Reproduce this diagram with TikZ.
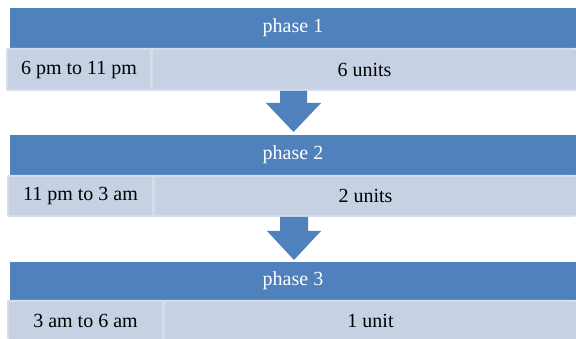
\documentclass[tikz,border=0pt]{standalone}
\usepackage{fontspec}
\setmainfont{Liberation Serif}
\definecolor{hdr}{HTML}{4F81BD}
\definecolor{cellc}{HTML}{C6D1E4}
\definecolor{rowbg}{HTML}{D5DDEB}
\begin{document}
\begin{tikzpicture}[x=1pt,y=-1pt,
  header/.style={fill=hdr,draw=none},
  rowback/.style={fill=rowbg,draw=none,rounded corners=2pt},
  cell/.style={fill=cellc,draw=none},
  htext/.style={text=white,font=\fontsize{20}{22}\selectfont,inner sep=0pt},
  ctext/.style={text=black,font=\fontsize{20}{22}\selectfont,inner sep=0pt},
  downarrow/.style={fill=hdr,draw=none}]
\useasboundingbox (0,0) rectangle (576,339);
% phase 1
\path[header] (10,8) rectangle (576,48);
\node[htext] (p1) at (293,28) {phase 1};
\path[rowback] (6,48) rectangle (576,91);
\path[cell] (8,50) rectangle (150,89);
\path[cell] (153,50) rectangle (576,89);
\node[ctext] (t1) at (79,70) {6 pm to 11 pm};
\node[ctext] (u1) at (364.5,70) {6 units};
% arrow 1
\path[downarrow] (280,91) -- (307,91) -- (307,103) -- (321,103) -- (293.5,132)
  -- (266,103) -- (280,103) -- cycle;
% phase 2
\path[header] (10,135) rectangle (576,175);
\node[htext] (p2) at (293,155) {phase 2};
\path[rowback] (7,175) rectangle (576,217);
\path[cell] (9,177) rectangle (152,215);
\path[cell] (155,177) rectangle (576,215);
\node[ctext] (t2) at (80.5,196) {11 pm to 3 am};
\node[ctext] (u2) at (365.5,196) {2 units};
% arrow 2
\path[downarrow] (280,217) -- (308,217) -- (308,231) -- (321,231) -- (294,260)
  -- (267,231) -- (280,231) -- cycle;
% phase 3
\path[header] (10,262) rectangle (576,300);
\node[htext] (p3) at (293,281) {phase 3};
\path[rowback] (7,300) rectangle (576,339);
\path[cell] (9,302) rectangle (162,339);
\path[cell] (165,302) rectangle (576,339);
\node[ctext] (t3) at (85.5,321) {3 am to 6 am};
\node[ctext] (u3) at (370.5,321) {1 unit};
\end{tikzpicture}
\end{document}
